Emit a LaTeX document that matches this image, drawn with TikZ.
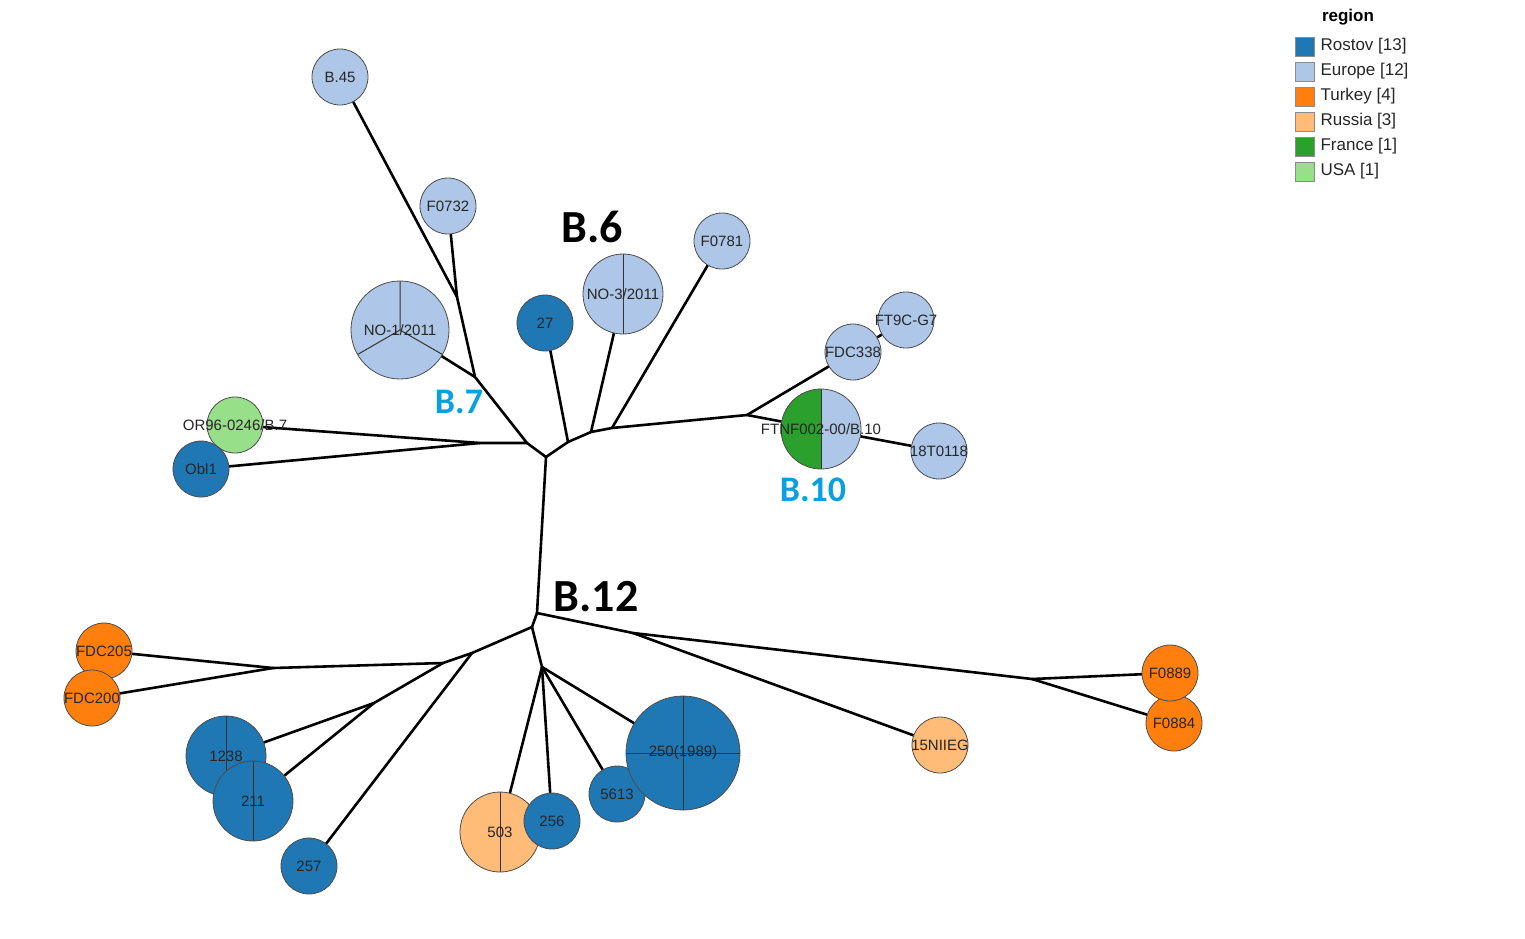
\documentclass[tikz,border=0pt]{standalone}
\usepackage{fontspec}
\setmainfont{Liberation Sans}
\newfontfamily\cladefont{Carlito}
\usetikzlibrary{positioning}
\usetikzlibrary{backgrounds}

\definecolor{rostov}{HTML}{1F77B4}
\definecolor{europe}{HTML}{AEC7E8}
\definecolor{turkey}{HTML}{FF7F0E}
\definecolor{russia}{HTML}{FFBB78}
\definecolor{france}{HTML}{2CA02C}
\definecolor{usa}{HTML}{98DF8A}
\definecolor{cladeblue}{HTML}{0AA0E0}

\tikzset{
  strain/.style={circle, draw=black!70, line width=0.8pt, inner sep=0pt, minimum size=56pt},
  every label/.style={font=\fontsize{15}{15}\selectfont, text=black!85, inner sep=0pt},
  branch/.style={line width=2.6pt, line join=round, line cap=round},
  divider/.style={draw=black!80, line width=1pt},
  halves/.style={path picture={\draw[divider] (path picture bounding box.north) -- (path picture bounding box.south);}},
  thirds/.style={path picture={\draw[divider] (path picture bounding box.center) -- ++(90:60pt)
      (path picture bounding box.center) -- ++(210:60pt)
      (path picture bounding box.center) -- ++(330:60pt);}},
  quarters/.style={path picture={\draw[divider] (path picture bounding box.north) -- (path picture bounding box.south)
      (path picture bounding box.west) -- (path picture bounding box.east);}},
  clade/.style={font=\cladefont\bfseries\fontsize{46}{46}\selectfont},
  subclade/.style={font=\cladefont\bfseries\fontsize{36}{36}\selectfont, text=cladeblue},
  swatch/.style={draw=black!45, line width=0.7pt, inner sep=0pt, minimum size=19pt},
  keytext/.style={font=\fontsize{17}{17}\selectfont, text=black!85, inner sep=2pt},
}

\begin{document}
\begin{tikzpicture}[x=1pt,y=-1pt]
\useasboundingbox (0,0) rectangle (1525,938);

% B.7 and B.6 strains
\node[strain, fill=europe, label=center:{B.45}] (b45) at (340,77) {};
\node[strain, fill=europe, label=center:{F0732}] (f0732) at (448,206) {};
\node[strain, fill=europe, thirds, minimum size=98pt, label=center:{NO-1/2011}] (no1) at (400,330) {};
\node[strain, fill=rostov, label=center:{27}] (s27) at (545,323) {};
\node[strain, fill=europe, halves, minimum size=80pt, label=center:{NO-3/2011}] (no3) at (623,294) {};
\node[strain, fill=europe, label=center:{F0781}] (f0781) at (722,241) {};
\node[strain, fill=usa, label=center:{OR96-0246/B.7}] (or96) at (235,425) {};
\node[strain, fill=rostov, label=center:{Obl1}] (obl1) at (201,469) {};

% B.10 strains
\node[strain, fill=europe, label=center:{FT9C-G7}] (ft9c) at (906,320) {};
\node[strain, fill=europe, label=center:{FDC338}] (fdc338) at (853,352) {};
\node[strain, fill=europe, minimum size=80pt, label=center:{FTNF002-00/B.10},
  path picture={\fill[france] (path picture bounding box.north west) rectangle (path picture bounding box.south);
    \draw[divider] (path picture bounding box.north) -- (path picture bounding box.south);}] (ftnf) at (821,429) {};
\node[strain, fill=europe, label=center:{18T0118}] (t18) at (939,451) {};

% B.12 strains
\node[strain, fill=turkey, label=center:{FDC205}] (fdc205) at (104,651) {};
\node[strain, fill=turkey, label=center:{FDC200}] (fdc200) at (92,698) {};
\node[strain, fill=rostov, halves, minimum size=80pt, label=center:{1238}] (s1238) at (226,756) {};
\node[strain, fill=rostov, halves, minimum size=80pt, label=center:{211}] (s211) at (253,801) {};
\node[strain, fill=rostov, label=center:{257}] (s257) at (309,866) {};
\node[strain, fill=russia, halves, minimum size=80pt, label=center:{503}] (s503) at (500,832) {};
\node[strain, fill=rostov, label=center:{256}] (s256) at (552,821) {};
\node[strain, fill=rostov, label=center:{5613}] (s5613) at (617,794) {};
\node[strain, fill=rostov, quarters, minimum size=114pt, label=center:{250(1989)}] (s250) at (683,753) {};
\node[strain, fill=russia, label=center:{15NIIEG}] (niieg) at (940,745) {};
\node[strain, fill=turkey, label=center:{F0884}] (f0884) at (1174,723) {};
\node[strain, fill=turkey, label=center:{F0889}] (f0889) at (1170,673) {};

% inner nodes of the tree
\coordinate (j6) at (546,457);
\coordinate (j12) at (537,613);
\coordinate (j12a) at (532,627);
\coordinate (k7) at (527,443);
\coordinate (b7) at (475,377);
\coordinate (k45) at (457,297);
\coordinate (kor) at (480,443);
\coordinate (k27) at (568,442);
\coordinate (kno3) at (591,432);
\coordinate (k781) at (612,428);
\coordinate (b10) at (747,415);
\coordinate (k15) at (633,633);
\coordinate (kf88) at (1032,679);
\coordinate (ka) at (472,653);
\coordinate (kb) at (443,663);
\coordinate (kc) at (374,703);
\coordinate (kfdc) at (273,668);
\coordinate (kd) at (542,667);

\begin{scope}[on background layer]
\fill[white] (0,0) rectangle (1525,938);
% trunk
\draw[branch] (j6) -- (j12) -- (j12a);
% B.7
\draw[branch] (j6) -- (k7) -- (b7) -- (k45) -- (b45);
\draw[branch] (k45) -- (f0732);
\draw[branch] (b7) -- (no1);
\draw[branch] (k7) -- (kor) -- (or96);
\draw[branch] (kor) -- (obl1);
% B.6
\draw[branch] (j6) -- (k27) -- (kno3) -- (k781) -- (b10);
\draw[branch] (k27) -- (s27);
\draw[branch] (kno3) -- (no3);
\draw[branch] (k781) -- (f0781);
% B.10
\draw[branch] (b10) -- (fdc338);
\draw[branch] (fdc338) -- (ft9c);
\draw[branch] (b10) -- (ftnf);
\draw[branch] (ftnf) -- (t18);
% B.12
\draw[branch] (j12) -- (k15) -- (kf88) -- (f0889);
\draw[branch] (kf88) -- (f0884);
\draw[branch] (k15) -- (niieg);
\draw[branch] (j12a) -- (ka) -- (kb) -- (kfdc) -- (fdc205);
\draw[branch] (kfdc) -- (fdc200);
\draw[branch] (kb) -- (kc) -- (s1238);
\draw[branch] (kc) -- (s211);
\draw[branch] (ka) -- (s257);
\draw[branch] (j12a) -- (kd) -- (s503);
\draw[branch] (kd) -- (s256);
\draw[branch] (kd) -- (s5613);
\draw[branch] (kd) -- (s250);
\end{scope}

% clade labels
\node[clade] (lb6) at (592,227) {B.6};
\node[clade] (lb12) at (596,597) {B.12};
\node[subclade] (lb7) at (459,402) {B.7};
\node[subclade] (lb10) at (813,490) {B.10};

% legend
\node[font=\bfseries\fontsize{17}{17}\selectfont] (legtitle) at (1348,17) {region};
\foreach \c/\t [count=\i] in {rostov/{Rostov [13]}, europe/{Europe [12]}, turkey/{Turkey [4]},
    russia/{Russia [3]}, france/{France [1]}, usa/{USA [1]}}{
  \node[swatch, fill=\c] (sw\i) at (1304.5,21.5+25*\i) {};
  \node[keytext, right=4pt of sw\i] (kt\i) {\t};
}
\end{tikzpicture}
\end{document}
